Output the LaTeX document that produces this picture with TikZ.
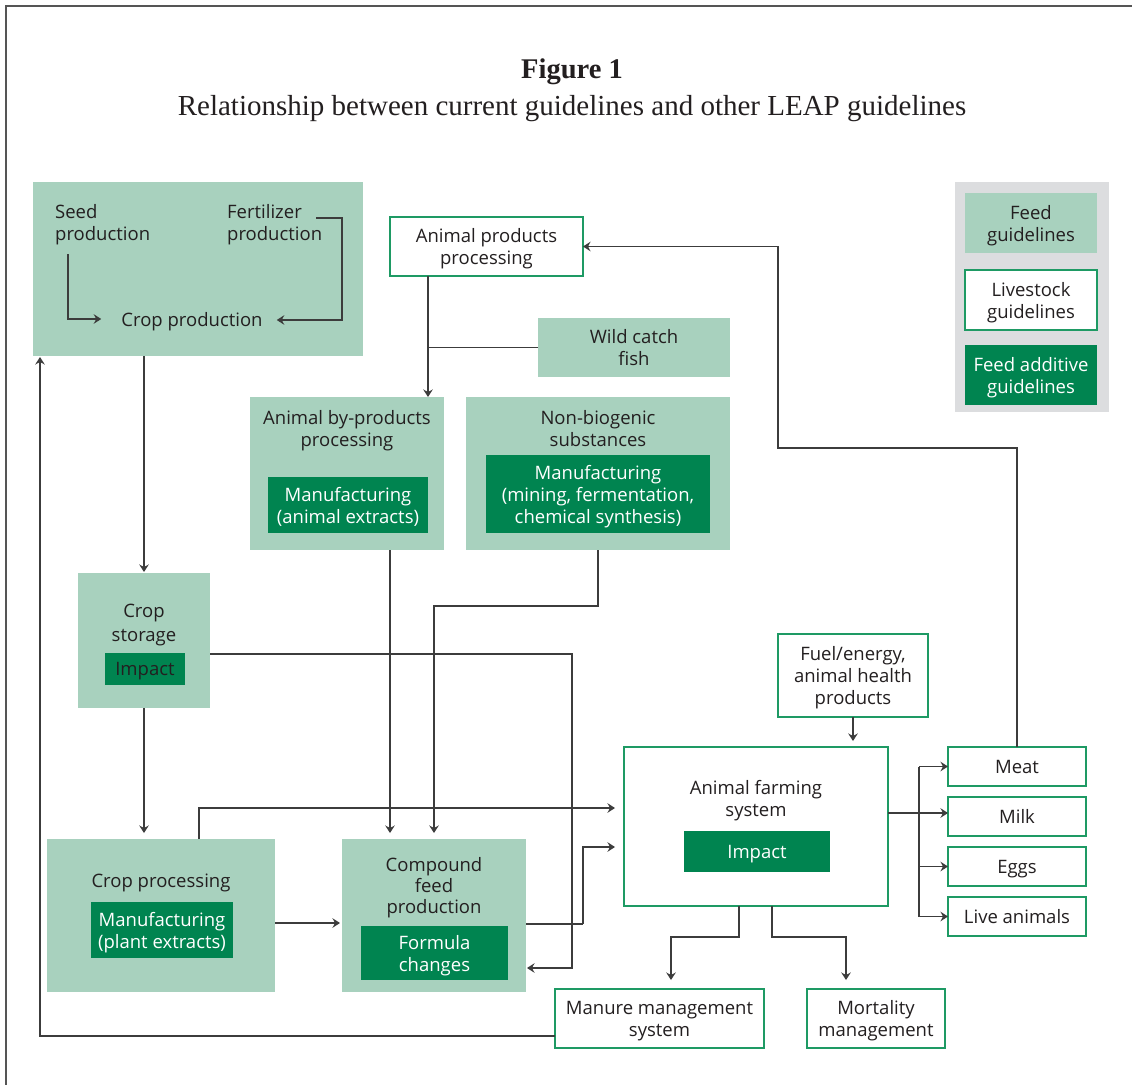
\documentclass[tikz,border=0pt]{standalone}
\usepackage{fontspec}
\setmainfont{Open Sans}
\newfontfamily\titlefont{Liberation Serif}
\usetikzlibrary{arrows.meta,calc}

\definecolor{feedc}{HTML}{A8D1BE}
\definecolor{addc}{HTML}{008450}
\definecolor{bordc}{HTML}{1E9A64}
\definecolor{legbg}{HTML}{DCDDDF}
\definecolor{linec}{HTML}{3C3C3C}
\definecolor{txt}{HTML}{231F20}
\definecolor{framec}{HTML}{555555}

\newcommand\mainfs{\fontsize{18.5}{22}\selectfont}

\tikzset{
  box/.style={inner sep=0pt, outer sep=0pt, align=center, text=txt, font=\mainfs, text depth=0pt},
  feed/.style={box, fill=feedc},
  additive/.style={box, fill=addc, text=white},
  livestock/.style={box, fill=white, draw=bordc, line width=1.4pt},
  lbl/.style={inner sep=0pt, align=center, text=txt, font=\mainfs, text depth=0pt},
  conn/.style={draw=linec, line width=1.35pt},
  arr/.style={conn, -{Stealth[length=7.5pt,width=9.5pt,inset=2.5pt]}},
}

\begin{document}
\begin{tikzpicture}[x=1pt,y=-1pt]
\useasboundingbox (0,0) rectangle (1132,1084);
\fill[white] (0,0) rectangle (1132,1084);

% outer frame
\draw[framec, line width=1.5pt] (6,1100) -- (6,6) -- (1150,6);

% heading
\node[font=\titlefont\fontsize{28.5}{31}\selectfont\bfseries, text=txt] (fig) at (572,72) {Figure 1};
\node[font=\titlefont\fontsize{29}{31}\selectfont, text=txt] (subt) at (572,109) {Relationship between current guidelines and other LEAP guidelines};

% legend
\node[box, fill=legbg, minimum width=154pt, minimum height=230pt] (legend) at (1032,297) {};
\node[feed, minimum width=132pt, minimum height=60pt] (lfeed) at (1031,223) {Feed\\guidelines};
\node[livestock, minimum width=132pt, minimum height=60pt, line width=1.2pt] (llive) at (1031,300) {Livestock\\guidelines};
\node[additive, minimum width=132pt, minimum height=60pt] (ladd) at (1031,375) {Feed additive\\guidelines};

% crop production group
\node[feed, minimum width=330pt, minimum height=174pt] (cropbox) at (198,269) {};
\node[lbl, align=left, anchor=west] (seed) at (55,222) {Seed\\production};
\node[lbl, align=left, anchor=west] (fert) at (227,222) {Fertilizer\\production};
\node[lbl] (cropprod) at (192,319) {Crop production};
\coordinate (s1) at (68,254);
\coordinate (f1) at (316,218);
\coordinate (f2) at (342,218);
\draw[arr] (s1) |- ($(cropprod.west)+(-20,0)$);
\draw[arr] (f1) -- (f2) |- ($(cropprod.east)+(14,1)$);

% animal products processing and wild catch fish
\node[livestock, minimum width=193pt, minimum height=59pt] (app) at (486.5,246.5) {Animal products\\processing};
\node[feed, minimum width=192pt, minimum height=59pt] (wcf) at (634,347.5) {Wild catch\\fish};

% animal by-products processing
\node[feed, minimum width=194pt, minimum height=153pt] (abp) at (347,473.5) {};
\node[lbl] (abpl) at (347,428) {Animal by-products\\processing};
\node[additive, minimum width=160pt, minimum height=56pt] (abpm) at (348,505) {Manufacturing\\(animal extracts)};

% non-biogenic substances
\node[feed, minimum width=264pt, minimum height=153pt] (nbs) at (598,473.5) {};
\node[lbl] (nbsl) at (598,428) {Non-biogenic\\substances};
\node[additive, minimum width=224pt, minimum height=78pt] (nbsm) at (598,494) {Manufacturing\\(mining, fermentation,\\chemical synthesis)};

% crop storage
\node[feed, minimum width=132pt, minimum height=135pt] (cst) at (144,640.5) {};
\node[lbl, font=\fontsize{18.5}{24}\selectfont] (cstl) at (144,623) {Crop\\storage};
\node[additive, text=txt, minimum width=80pt, minimum height=32pt] (csti) at (145,669) {Impact};

% crop processing
\node[feed, minimum width=228pt, minimum height=153pt] (cpr) at (161,915.5) {};
\node[lbl] (cprl) at (161,881) {Crop processing};
\node[additive, minimum width=142pt, minimum height=56pt] (cprm) at (162,930) {Manufacturing\\(plant extracts)};

% compound feed production
\node[feed, minimum width=184pt, minimum height=153pt] (cfp) at (434,915.5) {};
\node[lbl, font=\fontsize{18.5}{21}\selectfont] (cfpl) at (434,885) {Compound\\feed\\production};
\node[additive, minimum width=147pt, minimum height=54pt] (cfpm) at (434.5,953) {Formula\\changes};

% livestock side
\node[livestock, minimum width=150pt, minimum height=83pt] (fuel) at (853,675.5) {Fuel/energy,\\animal health\\products};
\node[livestock, minimum width=264pt, minimum height=159pt] (afs) at (756,826.5) {};
\node[lbl] (afsl) at (756,798) {Animal farming\\system};
\node[additive, minimum width=146pt, minimum height=41pt] (afsi) at (757,851.5) {Impact};

\node[livestock, minimum width=138pt, minimum height=39pt] (meat) at (1017,766.5) {Meat};
\node[livestock, minimum width=138pt, minimum height=39pt] (milk) at (1017,816.5) {Milk};
\node[livestock, minimum width=138pt, minimum height=39pt] (eggs) at (1017,866.5) {Eggs};
\node[livestock, minimum width=138pt, minimum height=39pt] (live) at (1017,916.5) {Live animals};

\node[livestock, minimum width=209pt, minimum height=59pt] (manure) at (659.5,1018.5) {Manure management\\system};
\node[livestock, minimum width=138pt, minimum height=59pt] (mort) at (876,1018.5) {Mortality\\management};

% bend points
\coordinate (c1) at (778,448);
\coordinate (appout) at (428,276);
\coordinate (a1) at ($(abp.south)+(43,0)$);
\coordinate (c2) at (572,968);
\coordinate (c3) at (434,606);
\coordinate (c4) at (583,924);
\coordinate (trunk) at (919,0);
\coordinate (m1) at (671,937);
\coordinate (m2) at (846,937);
\coordinate (lx) at (40,0);

% connectors
\draw[arr] (meat.north) |- (c1) |- (app.east);
\draw[arr] (appout) -- (appout |- abp.north);
\draw[conn] (wcf.west) -- (wcf.west -| appout);
\draw[arr, shorten >=1pt] (cst.north |- cropbox.south) -- (cst.north);
\draw[arr, shorten >=6pt] (cst.south) -- (cst.south |- cpr.north);
\draw[arr, shorten >=1pt] ($(cst.east)+(0,13.5)$) -| (c2) -- (c2 -| cfp.east);
\draw[arr, shorten >=6pt] (a1) -- (a1 |- cfp.north);
\draw[arr, shorten >=6pt] (nbs.south) |- (c3) -- (c3 |- cfp.north);
\draw[arr, shorten >=9pt] ($(cpr.north)+(38,0)$) |- ($(afs.west)+(0,-18.5)$);
\draw[arr, shorten >=2pt] ($(cpr.east)+(0,7.5)$) -- ($(cfp.west)+(0,7.5)$);
\draw[conn] ($(cfp.east)+(0,8.5)$) -- (c4);
\draw[arr, shorten >=9pt] (c4) |- ($(afs.west)+(0,20.5)$);
\draw[arr, shorten >=6pt] (fuel.south) -- (fuel.south |- afs.north);
\draw[arr] ($(afs.east)+(0,-13.5)$) -- ($(milk.west)+(0,-3.5)$);
\draw[conn] (trunk |- meat.west) -- (trunk |- live.west);
\draw[arr] (trunk |- meat.west) -- (meat.west);
\draw[arr] (trunk |- eggs.west) -- (eggs.west);
\draw[arr] (trunk |- live.west) -- (live.west);
\draw[arr, shorten >=9pt] ($(afs.south)+(-17,0)$) |- (m1) -- (m1 |- manure.north);
\draw[arr, shorten >=9pt] ($(afs.south)+(16,0)$) |- (m2) -- (m2 |- mort.north);
\draw[arr, shorten >=1pt] ($(manure.west)+(0,17.5)$) -| (lx |- cropbox.south);
\end{tikzpicture}
\end{document}
